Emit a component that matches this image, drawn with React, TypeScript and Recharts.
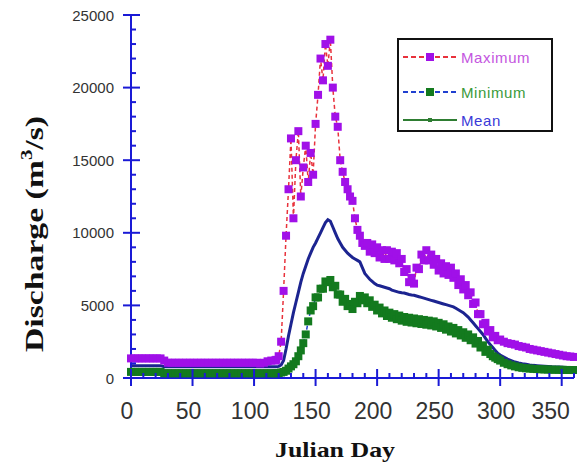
import React from "react";
import { Line, LineChart, XAxis, YAxis } from "recharts";

// Julian day of each sample (denser during the spring flood)
const days = [
  0, 3, 6, 9, 12, 15, 18, 21, 24, 27, 30, 33, 36, 39, 42, 45, 48, 51, 54, 57, 60, 63, 66, 69, 72, 75, 78, 81, 84, 87,
  90, 93, 96, 99, 102, 105, 108, 111, 114, 117,
  118, 120, 122, 124, 126, 128, 130, 132, 134, 136, 138, 140, 142, 144, 146, 148, 150, 152, 154, 156,
  158, 160, 162, 164, 166, 168, 170, 172, 174, 176, 178, 180, 182, 184, 186, 188, 190, 192, 194, 196,
  198, 200, 202, 204, 206, 208, 210, 212, 214, 216, 218, 220, 222, 224, 226, 228, 230, 232, 234, 236,
  238, 240, 242, 244, 246, 248, 250, 252, 254, 256, 258, 260, 262, 264, 266, 268, 270, 272, 274, 276,
  278, 280, 282, 284, 286, 288, 290, 292, 294, 296, 298, 300,
  303, 306, 309, 312, 315, 318, 321, 324, 327, 330, 333, 336, 339, 342, 345, 348, 351, 354, 357, 360
];

const maxQ = [
  1350, 1350, 1350, 1350, 1350, 1350, 1350, 1350, 1350, 1200, 1050, 1050, 1050, 1050, 1050, 1050, 1050, 1050, 1050, 1050,
  1050, 1050, 1050, 1050, 1050, 1050, 1050, 1050, 1050, 1050, 1050, 1050, 1050, 1050, 1050, 1000, 1050, 1150, 1200, 1200,
  1250, 1500, 2500, 6000, 9800, 13000, 16500, 11000, 15000, 17000,
  12500, 14500, 16000, 13500, 15500, 14000, 17500, 19500, 22000, 20500,
  23000, 21500, 23300, 20000, 18000, 17300, 15000, 14200, 13500, 13000,
  12500, 12200, 11000, 10200, 9800, 9300, 9100, 9300, 8700, 9200,
  8600, 9000, 8300, 8800, 8200, 8800, 8200, 8700, 8100, 8600,
  7900, 8200, 7300, 7500, 6600, 6900, 6500, 7600, 7500, 8500,
  8100, 8800, 8100, 8500, 7800, 8200, 7400, 7900, 7200, 7700,
  7100, 7600, 6900, 7200, 6400, 6800, 6100, 6400, 5700, 5900,
  5100, 5200, 4400, 4400, 3700, 3800, 3200, 3300, 2800, 2900,
  2600, 2650,
  2500, 2400, 2350, 2300, 2200, 2150, 2100, 2000, 1950, 1900, 1850, 1800, 1750, 1700, 1650, 1600, 1550, 1500, 1480, 1450
];

const minQ = [
  420, 420, 420, 420, 420, 420, 420, 420, 420, 330, 330, 330, 330, 330, 330, 330, 330, 330, 330, 330,
  330, 330, 330, 330, 330, 330, 330, 330, 330, 330, 330, 330, 330, 330, 330, 330, 330, 330, 330, 330,
  330, 340, 380, 420, 500, 650, 800, 950, 1150, 1500,
  1900, 2400, 3000, 3900, 4650, 4950, 5550, 5550, 6150, 6150,
  6650, 6600, 6750, 6250, 6350, 5750, 5750, 5250, 5450, 4950,
  5100, 4750, 5250, 5150, 5650, 5350, 5550, 5150, 5350, 4900,
  5050, 4650, 4850, 4450, 4650, 4270, 4500, 4150, 4400, 4050,
  4300, 3950, 4200, 3870, 4150, 3820, 4100, 3770, 4050, 3720,
  4000, 3670, 3950, 3620, 3900, 3550, 3800, 3450, 3700, 3330,
  3550, 3200, 3450, 3070, 3300, 2930, 3150, 2770, 3000, 2600,
  2800, 2370, 2550, 2100, 2250, 1800, 1950, 1650, 1500, 1400,
  1300, 1200,
  1050, 950, 870, 800, 740, 700, 670, 650, 630, 615, 600, 590, 580, 575, 570, 565, 560, 555, 550, 550
];

const meanQ = [
  850, 850, 850, 850, 850, 850, 850, 850, 850, 780, 780, 780, 780, 780, 780, 780, 780, 780, 780, 780,
  780, 780, 780, 780, 780, 780, 780, 780, 780, 780, 780, 780, 780, 780, 780, 780, 780, 780, 780, 780,
  780, 800, 900, 1200, 2000, 2900, 3700, 4500, 5200, 5900,
  6600, 7200, 7700, 8200, 8600, 9000, 9300, 9650, 10000, 10350,
  10700, 10900, 10800, 10400, 10000, 9600, 9300, 9000, 8800, 8600,
  8450, 8300, 8200, 8100, 8000, 7600, 7200, 7000, 6800, 6650,
  6500, 6400, 6350, 6300, 6250, 6200, 6150, 6050, 6000, 5950,
  5900, 5870, 5850, 5800, 5750, 5720, 5700, 5650, 5600, 5550,
  5500, 5450, 5400, 5350, 5300, 5250, 5200, 5150, 5100, 5050,
  5000, 4950, 4900, 4800, 4700, 4600, 4500, 4350, 4200, 4000,
  3800, 3600, 3400, 3200, 3000, 2750, 2500, 2300, 2100, 1900,
  1700, 1580,
  1450, 1300, 1200, 1100, 1030, 980, 940, 900, 870, 850, 830, 810, 790, 770, 760, 750, 740, 730, 720, 700
];

const xTicks = [
  0, 10, 20, 30, 40, 50, 60, 70, 80, 90, 100, 110, 120, 130, 140, 150, 160, 170, 180, 190, 200, 210, 220, 230, 240, 250,
  260, 270, 280, 290, 300, 310, 320, 330, 340, 350, 360
];
const yTicks = [
  0, 1000, 2000, 3000, 4000, 5000, 6000, 7000, 8000, 9000, 10000, 11000, 12000, 13000, 14000, 15000, 16000, 17000, 18000,
  19000, 20000, 21000, 22000, 23000, 24000, 25000
];

const data = days.map((day, i) => ({ day, max: maxQ[i], min: minQ[i], mean: meanQ[i] }));

const AXIS = "#1a1ad6";
const TICK_TEXT = "#333";
const SANS = "'Liberation Sans', Arial, sans-serif";
const SERIF = "'Liberation Serif', 'Times New Roman', serif";

const MAX_MARK = "#a010e8";
const MAX_LINE = "#e8323c";
const MIN_MARK = "#137a1e";
const MIN_LINE = "#2040d0";
const MEAN_LINE = "#1c2490";

const XTick = (props: any) => {
  const { x, y, payload, side } = props;
  const major = payload.value % 50 === 0;
  const dir = side === "top" ? 1 : -1;
  const inner = major ? 9 : 5;
  const outer = major ? 8 : 0;
  // labels sit a little left of their ticks; the last one is pulled in to fit the frame
  const shift = payload.value === 350 ? -11 : -4;
  return (
    <g>
      <line x1={x} x2={x} y1={y + dir * inner} y2={y - dir * outer} stroke={AXIS} strokeWidth={2} />
      {side === "bottom" && major && payload.value <= 350 ? (
        <text x={x + shift} y={y + 41} textAnchor="middle" fontSize={23} fill={TICK_TEXT} fontFamily={SANS}>
          {payload.value}
        </text>
      ) : null}
    </g>
  );
};

const YTick = (props: any) => {
  const { x, y, payload, side } = props;
  const major = payload.value % 5000 === 0;
  const dir = side === "left" ? 1 : -1;
  const inner = major ? 9 : 5;
  const outer = major ? 8 : 0;
  return (
    <g>
      <line x1={x + dir * inner} x2={x - dir * outer} y1={y} y2={y} stroke={AXIS} strokeWidth={2} />
      {side === "left" && major ? (
        <text x={x - 17} y={y} textAnchor="end" dominantBaseline="central" fontSize={15} fill={TICK_TEXT} fontFamily={SANS}>
          {payload.value}
        </text>
      ) : null}
    </g>
  );
};

const XLabel = () => (
  <text x={335} y={457} textAnchor="middle" fontSize={22} fontWeight="bold" fill="#111" fontFamily={SERIF}
    textLength={120} lengthAdjust="spacingAndGlyphs">
    Julian Day
  </text>
);

const YLabel = () => (
  <text x={43} y={234} transform="rotate(-90 43 234)" textAnchor="middle" fontSize={26} fontWeight="bold" fill="#111"
    fontFamily={SERIF} textLength={236} lengthAdjust="spacingAndGlyphs">
    Discharge (m<tspan dy={-11} fontSize={16}>3</tspan><tspan dy={11}>/s)</tspan>
  </text>
);

const square = (color: string, size: number) => (p: any) => (
  <rect key={`sq-${p.index}`} x={p.cx - size / 2} y={p.cy - size / 2} width={size} height={size} fill={color} />
);

const LegendRow = ({ top, line, dash, mark, markSize, label, color }: any) => (
  <div style={{ position: "absolute", left: 4, top, display: "flex", alignItems: "center", height: 16 }}>
    <svg width={54} height={16}>
      <line x1={0} x2={54} y1={8} y2={8} stroke={line} strokeWidth={2} strokeDasharray={dash} />
      <rect x={27 - markSize / 2} y={8 - markSize / 2} width={markSize} height={markSize} fill={mark} />
    </svg>
    <span style={{ fontFamily: SANS, fontSize: 15, color, marginLeft: 4, letterSpacing: 0.6 }}>{label}</span>
  </div>
);

export default function App() {
  return (
    <div style={{ position: "absolute", left: 0, top: 0, width: 577, height: 466, background: "#fff" }}>
      <LineChart width={577} height={466} data={data} margin={{ top: 15, right: 3, bottom: 0, left: 0 }}>
        <XAxis xAxisId="b" dataKey="day" type="number" domain={[0, 360]} ticks={xTicks} interval={0}
          tick={<XTick side="bottom" />} tickSize={0} tickMargin={0} tickLine={false} height={88}
          axisLine={{ stroke: AXIS, strokeWidth: 2 }} label={<XLabel />} />
        <XAxis xAxisId="t" orientation="top" dataKey="day" type="number" domain={[0, 360]} ticks={xTicks} interval={0}
          tick={<XTick side="top" />} tickSize={0} tickMargin={0} tickLine={false} height={0}
          axisLine={{ stroke: AXIS, strokeWidth: 2 }} />
        <YAxis yAxisId="l" type="number" domain={[0, 25000]} ticks={yTicks} interval={0}
          tick={<YTick side="left" />} tickSize={0} tickMargin={0} tickLine={false} width={131}
          axisLine={{ stroke: AXIS, strokeWidth: 2 }} label={<YLabel />} />
        <YAxis yAxisId="r" orientation="right" type="number" domain={[0, 25000]} ticks={yTicks} interval={0}
          tick={<YTick side="right" />} tickSize={0} tickMargin={0} tickLine={false} width={0}
          axisLine={{ stroke: AXIS, strokeWidth: 2 }} />
        <Line xAxisId="b" yAxisId="l" dataKey="max" stroke={MAX_LINE} strokeWidth={1.5} strokeDasharray="4 3"
          dot={square(MAX_MARK, 8)} isAnimationActive={false} />
        <Line xAxisId="b" yAxisId="l" dataKey="min" stroke={MIN_LINE} strokeWidth={1.5} strokeDasharray="4 3"
          dot={square(MIN_MARK, 8)} isAnimationActive={false} />
        <Line xAxisId="b" yAxisId="l" dataKey="mean" stroke={MEAN_LINE} strokeWidth={3} dot={false}
          isAnimationActive={false} />
      </LineChart>
      <div style={{ position: "absolute", left: 397, top: 38, width: 152, height: 90, border: "2px solid #111", background: "#fff" }}>
        <LegendRow top={9} line={MAX_LINE} dash="5 3" mark={MAX_MARK} markSize={8} label="Maximum" color="#c455e0" />
        <LegendRow top={44} line={MIN_LINE} dash="5 3" mark={MIN_MARK} markSize={8} label="Minimum" color="#3a9a3a" />
        <LegendRow top={72} line="#2e7d32" dash="0" mark="#2e7d32" markSize={4} label="Mean" color="#3a3ad8" />
      </div>
    </div>
  );
}
